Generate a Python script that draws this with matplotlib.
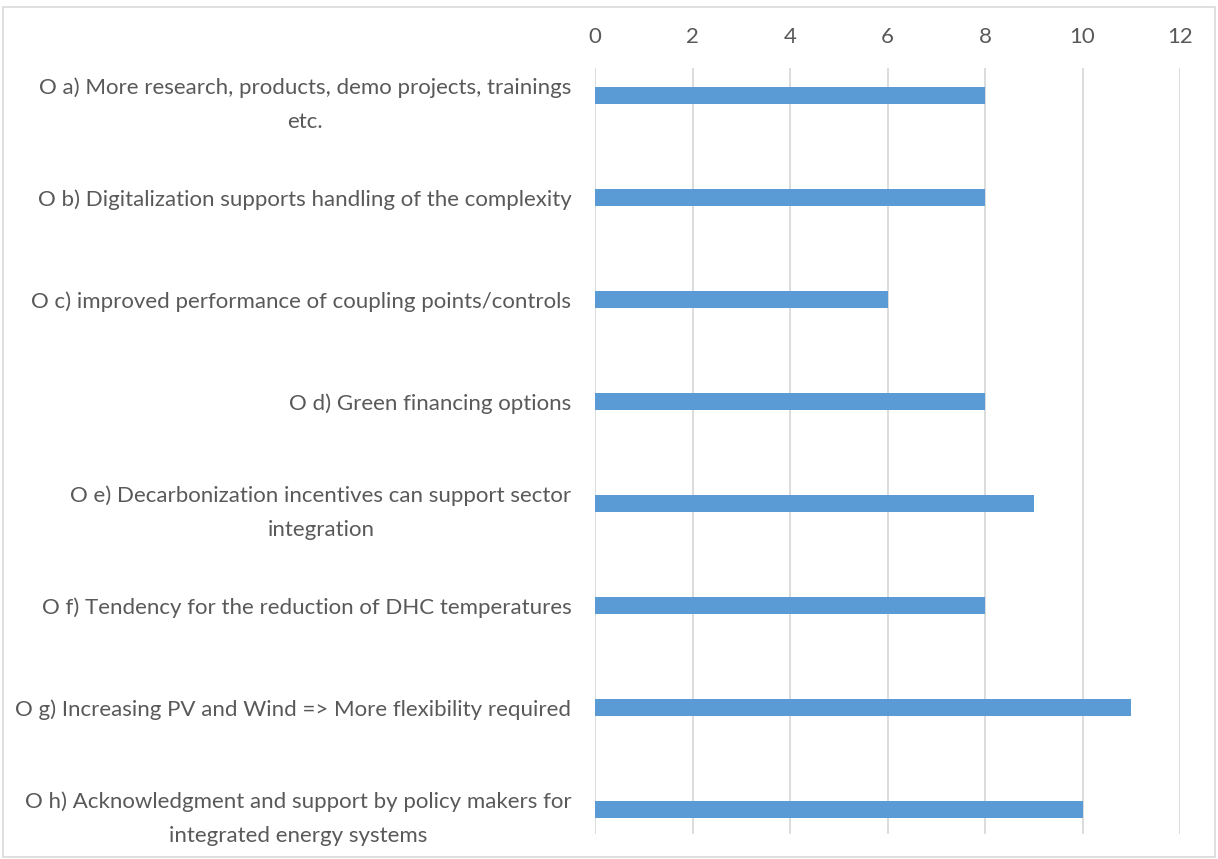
import matplotlib
matplotlib.use("Agg")
import matplotlib.pyplot as plt
from matplotlib.patches import Rectangle

categories = [
    "O a) More research, products, demo projects, trainings\netc.",
    "O b) Digitalization supports handling of the complexity",
    "O c) improved performance of coupling points/controls",
    "O d) Green financing options",
    "O e) Decarbonization incentives can support sector\nintegration",
    "O f) Tendency for the reduction of DHC temperatures",
    "O g) Increasing PV and Wind => More flexibility required",
    "O h) Acknowledgment and support by policy makers for\nintegrated energy systems",
]
values = [8, 8, 6, 8, 9, 8, 11, 10]
xticks = [0, 2, 4, 6, 8, 10, 12]

W, H = 1218, 859
fig = plt.figure(figsize=(W / 100, H / 100), dpi=100)
plt.rcParams['font.family'] = ['Lato', 'DejaVu Sans']

left, right = 595, 1180
top, bottom = 68, 834
ax = fig.add_axes([left / W, 1 - bottom / H, (right - left) / W, (bottom - top) / H])

pos = list(range(len(categories)))
ax.barh(pos, values, height=0.176, color="#5B9BD5", zorder=3)
ax.set_xlim(0, 12)
ax.set_ylim((bottom - 95.5) / 102, (top - 95.5) / 102)
ax.set_xticks(xticks)
ax.xaxis.tick_top()
ax.grid(axis="x", color="#D9D9D9", linewidth=1.3, zorder=0)
for s in ax.spines.values():
    s.set_visible(False)
ax.tick_params(axis="x", length=0, pad=15, labelsize=16, labelcolor="#595959")
ax.tick_params(axis="y", length=0, pad=17, labelsize=16, labelcolor="#595959")
ax.set_yticks(pos)
ax.set_yticklabels(categories, multialignment="center", linespacing=1.9)

fig.add_artist(Rectangle((3 / W, 2 / H), (W - 6) / W, (H - 9) / H, transform=fig.transFigure,
                         fill=False, edgecolor="#D9D9D9", linewidth=1.2))

fig.savefig("out.png", dpi=100, facecolor="white")
